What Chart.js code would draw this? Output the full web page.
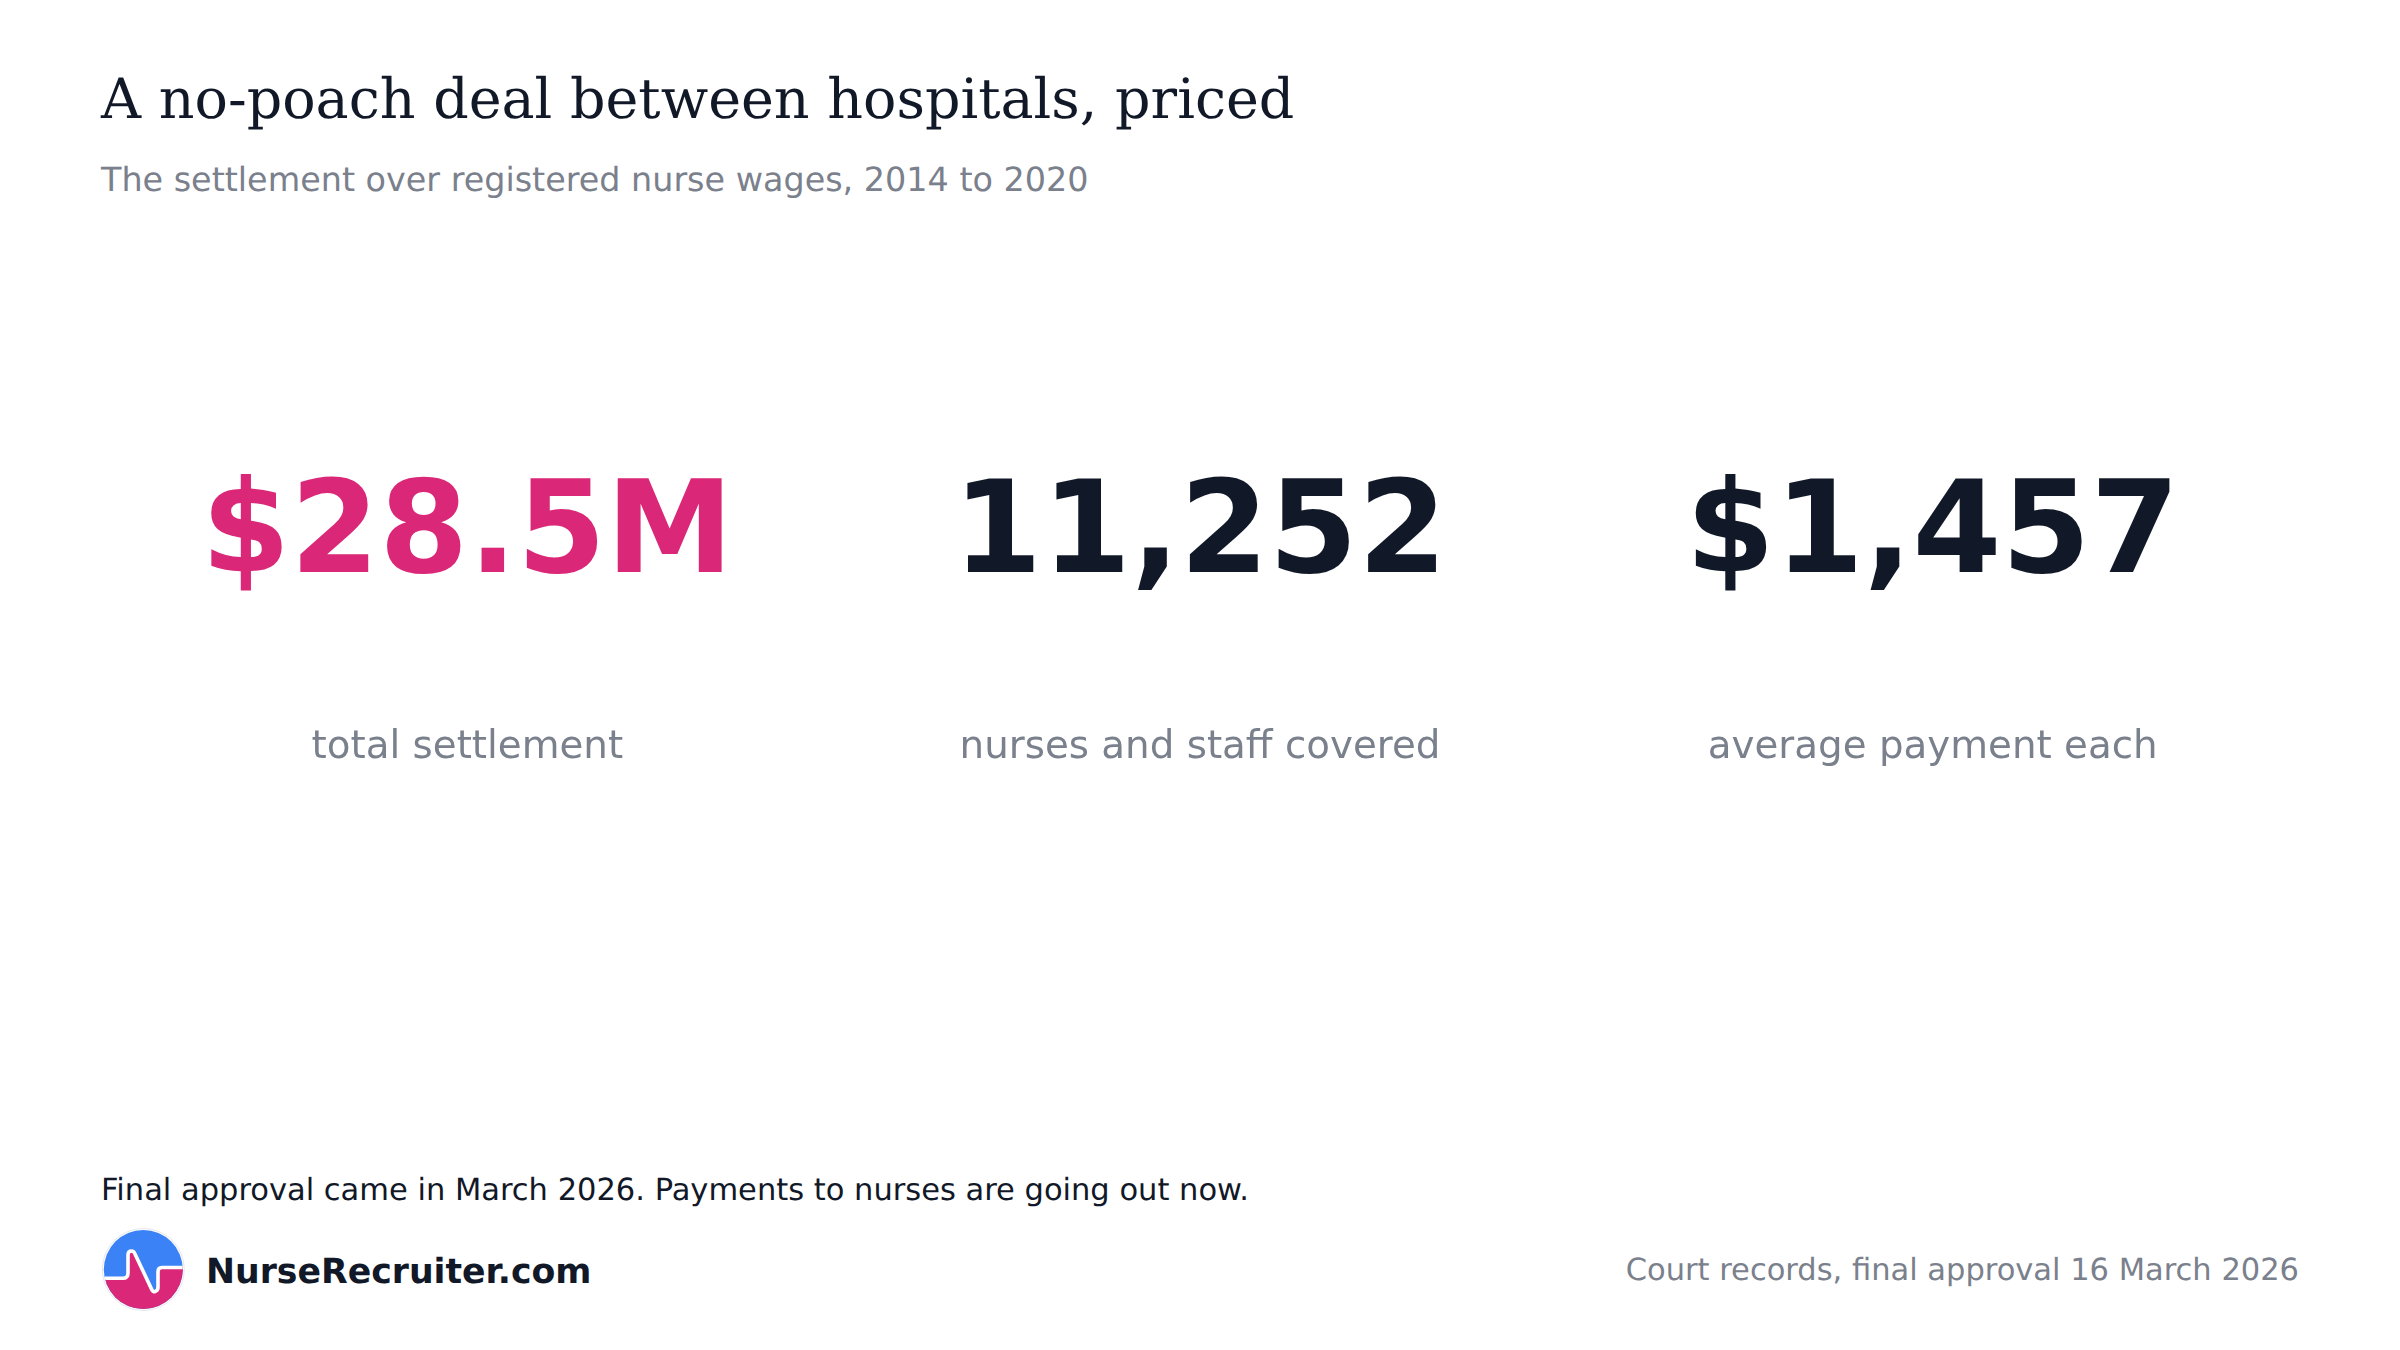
<!DOCTYPE html>
<html>
<head>
<meta charset="utf-8">
<title>A no-poach deal between hospitals, priced</title>
<script src="https://cdn.jsdelivr.net/npm/chart.js@4"></script>
<style>
    html, body { margin: 0; padding: 0; background: #fff; }
    body { width: 2400px; height: 1350px; position: relative; overflow: hidden; font-family: "DejaVu Sans", sans-serif; text-rendering: geometricPrecision; }
    .txt { position: absolute; white-space: nowrap; line-height: 1; margin: 0; }
    #title { left: 101px; top: 72px; font: 400 55.5px/1 "DejaVu Serif", serif; color: #111827; }
    #subtitle { left: 101px; top: 163px; font-size: 33.4px; color: #7a808c; }
    #note { left: 101px; top: 1176px; font-size: 30.5px; color: #111827; }
    #brand { left: 206px; top: 1255px; font-size: 34.7px; font-weight: 700; color: #111827; }
    #source { right: 101px; top: 1256px; font-size: 30.5px; color: #7a808c; }
    #logo { position: absolute; left: 90px; top: 1220px; }
    #kpi-chart { position: absolute; left: 101px; top: 400px; }
</style>
</head>
<body>
<h1 class="txt" id="title">A no-poach deal between hospitals, priced</h1>
<p class="txt" id="subtitle">The settlement over registered nurse wages, 2014 to 2020</p>

<canvas id="kpi-chart" width="2198" height="371"></canvas>

<p class="txt" id="note">Final approval came in March 2026. Payments to nurses are going out now.</p>
<svg id="logo" width="110" height="100" viewBox="0 0 110 100">
    <circle cx="53.3" cy="49.5" r="41" fill="#fff" stroke="#e5e7eb" stroke-width="1"/>
    <clipPath id="disc"><circle cx="53.3" cy="49.5" r="39.5"/></clipPath>
    <g clip-path="url(#disc)">
        <rect x="0" y="0" width="110" height="100" fill="#3b82f6"/>
        <path d="M 13 58.3 H 33 Q 38 58.3 38 53 V 35 Q 38 31 41.5 31 Q 44 31 45 34 L 62 70 Q 64 73 66 71 Q 68 70 68 67 V 52 Q 68 47.5 72 47.5 H 95 V 100 H 13 Z" fill="#db2777"/>
        <path d="M 13 58.3 H 33 Q 38 58.3 38 53 V 35 Q 38 31 41.5 31 Q 44 31 45 34 L 62 70 Q 64 73 66 71 Q 68 70 68 67 V 52 Q 68 47.5 72 47.5 H 95" fill="none" stroke="#fff" stroke-width="3.6"/>
    </g>
</svg>
<p class="txt" id="brand">NurseRecruiter.com</p>
<p class="txt" id="source">Court records, final approval 16 March 2026</p>

<script>
const kpiLabels = ['total settlement', 'nurses and staff covered', 'average payment each']
const kpiValues = [28500000, 11252, 1457]
const kpiDisplay = ['$28.5M', '11,252', '$1,457']
const kpiColors = ['#db2777', '#111827', '#111827']

// --- Big numbers, placed on the category scale ---
const bigNumbers = {
    id: 'bigNumbers',
    afterDatasetsDraw(chart) {
        const ctx = chart.ctx
        const points = chart.getDatasetMeta(0).data
        ctx.save()
        ctx.font = '700 128px "DejaVu Sans"'
        ctx.textAlign = 'center'
        ctx.textBaseline = 'alphabetic'
        points.forEach((point, i) => {
            ctx.fillStyle = kpiColors[i]
            ctx.fillText(kpiDisplay[i], point.x, 172)
        })
        ctx.restore()
    }
}

new Chart(document.getElementById('kpi-chart'), {
    type: 'line',
    data: {
        labels: kpiLabels,
        datasets: [{
            data: kpiValues,
            showLine: false,
            pointRadius: 0
        }]
    },
    options: {
        responsive: false,
        animation: false,
        devicePixelRatio: 1,
        layout: { padding: 0 },
        plugins: { legend: { display: false }, tooltip: { enabled: false } },
        scales: {
            x: {
                offset: true,
                grid: { display: false },
                border: { display: false },
                ticks: {
                    color: '#7a808c',
                    font: { family: '"DejaVu Sans"', size: 38.8 },
                    maxRotation: 0,
                    padding: 0
                }
            },
            y: { type: 'logarithmic', display: false }
        }
    },
    plugins: [bigNumbers]
})
</script>
</body>
</html>
